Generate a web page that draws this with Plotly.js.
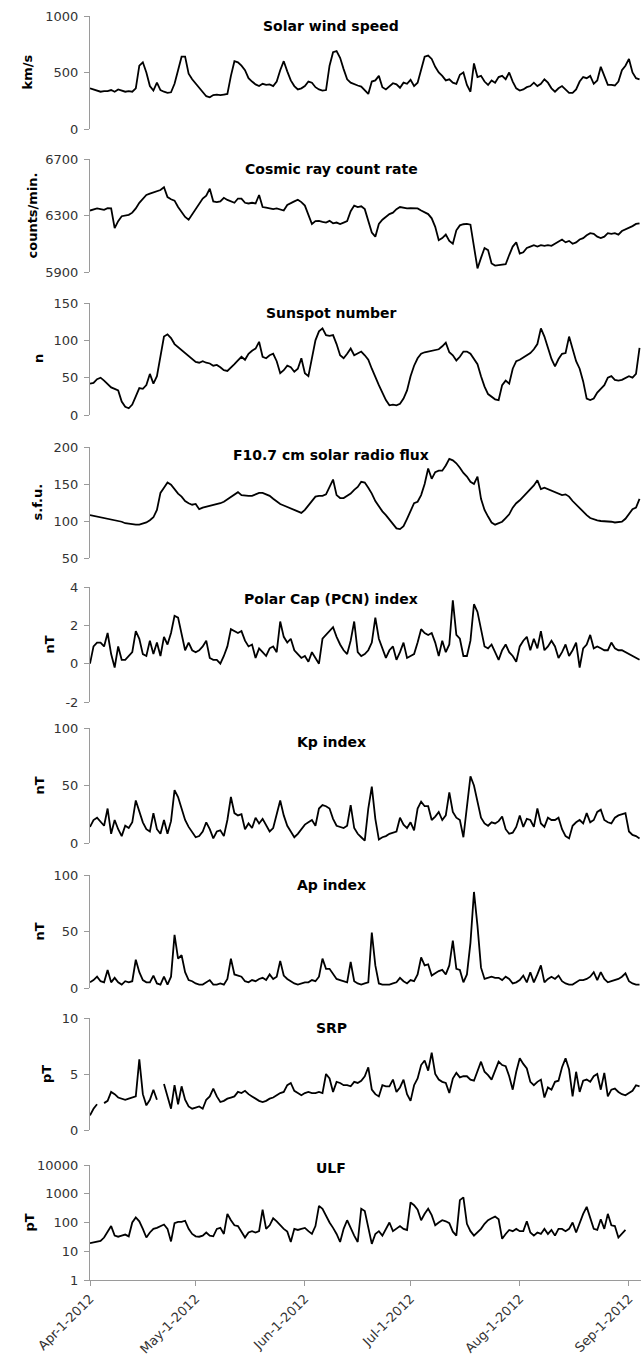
<!DOCTYPE html>
<html><head><meta charset="utf-8">
<script src="https://cdn.plot.ly/plotly-3.0.1.min.js"></script>
<style>html,body{margin:0;padding:0;background:#fff}#chart{width:641px;height:1359px}</style>
</head><body><div id="chart"></div>
<script>
// ---- data: one value per day starting Apr-1-2012 ----
const startYear = 2012, startMonth = 3, startDay = 1;

const solarWind = [
360,350,335,330,335,335,345,330,350,340,
330,335,330,360,560,590,500,380,340,410,
345,330,320,325,400,520,640,640,490,440,
400,360,320,290,280,300,305,300,305,310,
470,600,590,560,520,450,420,395,380,400,
390,395,380,420,520,600,510,430,380,350,
360,380,420,410,370,350,340,345,560,680,
690,630,530,440,410,395,385,375,345,310,
420,430,470,370,350,380,405,395,365,410,
400,435,380,410,520,640,650,620,550,500,
470,430,440,410,400,480,500,390,330,580,
460,470,420,390,430,410,460,470,440,500,
420,360,340,350,370,380,410,380,400,440,
410,360,330,360,380,350,320,320,350,420,
460,450,470,400,430,550,470,390,390,385,
420,520,560,620,500,450,440];

const cosmicRay = [
6335,6345,6350,6345,6340,6352,6350,6210,6260,6295,
6300,6305,6320,6350,6390,6420,6445,6455,6465,6470,
6480,6500,6430,6415,6405,6360,6320,6290,6270,6310,
6340,6380,6420,6440,6490,6400,6395,6400,6425,6410,
6400,6390,6420,6420,6390,6385,6390,6385,6445,6360,
6355,6350,6345,6350,6340,6335,6375,6390,6400,6412,
6395,6370,6300,6240,6260,6262,6255,6250,6262,6245,
6250,6240,6250,6260,6330,6370,6360,6365,6345,6270,
6180,6150,6240,6270,6290,6310,6320,6345,6360,6355,
6350,6352,6350,6350,6335,6320,6310,6280,6220,6125,
6140,6165,6120,6100,6195,6230,6238,6240,6235,6080,
5925,6000,6070,6055,5960,5945,5950,5950,5955,6020,
6080,6110,6030,6040,6070,6080,6090,6080,6090,6085,
6090,6085,6100,6110,6130,6110,6120,6100,6110,6130,
6140,6160,6175,6170,6150,6140,6150,6175,6170,6175,
6165,6190,6200,6210,6225,6240,6245];

const sunspots = [
42,43,48,50,46,42,37,35,33,18,
11,9,14,25,36,35,40,55,42,52,
80,105,108,103,95,91,88,84,80,75,
71,70,72,70,69,66,67,64,60,59,
63,68,73,78,74,82,86,89,98,78,
76,80,82,72,56,60,66,64,58,62,
76,56,52,76,100,112,116,107,106,107,
95,80,76,82,89,80,83,85,80,74,
62,50,40,30,20,13,14,13,15,22,
33,52,66,76,82,84,85,85,87,88,
92,97,84,80,73,78,85,85,82,75,
68,52,38,28,24,21,20,40,46,42,
62,72,74,77,80,83,88,95,116,105,
90,75,65,75,82,83,105,88,72,62,
45,22,20,22,30,35,40,50,52,47,
46,47,50,52,50,55,90];

const f107 = [
108,107,107,106,105,104,103,102,100,99,
97,96,95,95,95,96,98,101,105,115,
138,145,152,149,143,137,133,127,124,122,
123,116,118,119,120,121,122,124,126,129,
133,136,139,135,134,134,134,136,138,138,
136,134,130,126,123,121,119,117,115,112,
111,115,121,128,133,134,134,136,145,156,
135,131,131,134,137,142,146,153,152,145,
137,127,120,113,108,102,95,90,89,93,
103,114,124,126,135,150,171,157,166,168,
168,175,184,182,178,172,165,160,153,150,
160,130,115,106,98,95,97,99,104,109,
118,124,128,133,138,144,148,155,143,145,
143,140,139,137,135,136,133,127,122,117,
113,108,104,102,101,100,100,100,99,98,
98,99,103,110,116,118,130];

const pcn = [
0.0,0.9,1.1,1.1,0.9,1.6,0.5,-0.2,0.9,0.2,
0.2,0.4,0.6,1.7,1.3,0.5,0.4,1.2,0.5,1.1,
0.4,1.4,1.0,1.6,2.5,2.4,1.6,0.7,1.1,0.7,
0.6,0.7,0.9,1.2,0.3,0.2,0.2,0.0,0.4,0.9,
1.8,1.7,1.6,1.7,1.2,0.9,1.0,0.3,0.8,0.6,
0.4,0.8,0.9,0.6,2.2,1.4,1.1,1.3,0.7,0.5,
0.3,0.4,0.1,0.6,0.3,0.0,1.3,1.5,1.7,1.9,
1.4,1.0,0.7,0.5,1.2,2.2,0.6,0.4,0.5,0.7,
1.1,2.4,1.3,0.8,0.3,0.7,0.9,0.2,0.6,1.1,
0.3,0.4,0.5,1.1,1.8,1.6,1.5,1.6,1.1,0.4,
1.2,0.6,1.0,3.3,1.5,1.3,0.4,0.4,1.2,3.1,
2.7,1.8,0.9,0.8,1.0,0.6,0.2,0.7,1.0,0.6,
0.4,0.1,0.9,1.2,1.4,0.7,1.3,0.8,1.7,0.7,
0.9,1.2,0.9,0.3,0.6,1.0,0.4,0.7,1.1,-0.2,
0.8,1.0,1.5,0.8,0.9,0.8,0.7,0.7,1.1,0.8,
0.7,0.7,0.6,0.5,0.4,0.3,0.2];

const kp = [
14,20,22,18,15,30,8,20,12,6,
15,13,18,37,28,18,12,10,26,12,
8,20,8,19,46,40,30,20,14,9,
5,6,10,18,12,4,10,11,6,20,
40,26,24,25,12,17,13,22,17,21,
15,10,13,25,37,24,15,10,5,8,
12,16,18,20,15,30,33,32,30,21,
15,14,13,15,33,13,8,5,2,30,
49,21,3,5,6,8,9,10,22,16,
13,18,11,30,36,32,32,20,23,27,
20,24,44,27,22,20,5,30,58,50,
36,22,17,15,18,17,19,23,12,8,
9,14,24,14,21,20,14,30,17,14,
22,20,20,22,12,6,4,15,18,20,
17,26,18,20,27,29,20,18,17,22,
24,25,26,10,7,6,4];

const ap = [
5,7,10,6,5,16,5,9,5,3,
6,5,6,25,14,7,5,5,11,4,
3,10,3,10,47,26,29,14,7,6,
4,3,3,5,7,3,3,4,3,8,
26,12,11,10,6,5,7,6,8,9,
7,12,8,10,24,11,8,6,4,3,
4,5,5,7,6,10,26,17,17,13,
8,7,6,5,23,6,4,3,4,5,
49,20,4,3,3,3,4,5,9,6,
4,7,6,12,27,20,21,11,13,15,
16,12,20,42,17,16,5,12,40,85,
55,18,8,9,10,9,9,7,10,8,
4,5,7,11,5,14,5,12,20,5,
8,10,8,11,6,4,3,3,5,7,
7,8,10,14,7,14,8,5,6,7,
8,10,13,6,4,3,3];

const srp = [
1.3,1.9,2.3,null,2.4,2.6,3.4,3.2,2.9,2.8,
2.7,2.8,2.9,3.0,6.3,3.2,2.2,2.7,3.6,2.7,
null,4.1,3.0,1.9,4.0,2.3,3.9,2.7,2.1,1.9,
2.0,2.1,1.9,2.7,3.0,3.7,3.0,2.5,2.6,2.8,
2.9,3.0,3.4,3.3,3.5,3.2,3.0,2.8,2.6,2.5,
2.6,2.8,2.9,3.1,3.3,3.4,4.0,4.2,3.5,3.3,
3.1,3.3,3.4,3.3,3.3,3.4,3.3,5.0,4.6,3.4,
4.3,4.2,4.0,4.0,3.9,4.3,4.2,4.4,4.8,5.6,
3.6,3.2,3.0,4.0,3.9,3.9,4.5,3.4,3.8,4.5,
3.2,2.6,4.0,4.6,5.8,6.2,5.3,6.9,5.0,4.5,
4.3,4.2,3.3,4.6,5.1,4.7,4.8,4.8,4.5,4.4,
5.3,6.1,5.2,4.9,4.5,5.4,6.1,5.8,5.7,4.8,
3.6,5.2,6.4,5.9,5.5,4.3,4.0,4.3,4.5,2.9,
3.8,3.6,4.3,4.4,5.6,6.4,5.4,3.0,5.2,3.4,
4.4,4.5,4.3,4.8,5.0,3.6,5.1,3.0,3.6,3.7,
3.4,3.2,3.1,3.3,3.5,4.0,3.9];

const ulf = [
19,20,22,23,30,45,75,35,32,35,
38,33,100,150,110,60,30,45,60,65,
75,85,60,22,95,105,105,115,60,40,
33,32,35,45,35,33,60,65,40,200,
120,80,75,50,30,45,50,45,50,280,
60,80,140,110,80,60,48,21,60,55,
60,65,50,40,75,380,300,170,100,65,
40,21,60,120,60,35,21,300,250,60,
18,40,50,35,60,100,50,60,75,60,
55,500,400,280,120,200,300,180,80,100,
120,110,95,48,35,600,750,90,50,35,
45,60,90,120,140,160,130,27,40,55,
50,60,50,50,110,45,35,45,40,60,
40,55,35,60,60,50,60,100,45,100,
200,350,150,60,55,130,60,200,80,75,
30,40,55];

const panelTitles = ['Solar wind speed','Cosmic ray count rate','Sunspot number','F10.7 cm solar radio flux',
  'Polar Cap (PCN) index','Kp index','Ap index','SRP','ULF'];
const unitLabels = ['km/s','counts/min.','n','s.f.u.','nT','nT','nT','pT','pT'];
const tickValues = [[0,500,1000],[5900,6300,6700],[0,50,100,150],[50,100,150,200],[-2,0,2,4],
  [0,50,100],[0,50,100],[0,5,10],[1,10,100,1000,10000]];
const seriesList = [solarWind, cosmicRay, sunspots, f107, pcn, kp, ap, srp, ulf];

// ---- layout geometry (pixels in a 641 x 1359 page) ----
const W = 641, H = 1359;
const plotLeft = 90;
const panelPx = [[16,129],[159,272],[303,415],[447,558],[587,702],[728,843],[875,988],[1018,1130],[1165,1280]];
const titleY = [26,169,313,455,599,742,885,1028,1168];
const unitX = [27,32,38,37,49,39,39,46,29];
const yRanges = [[0,1000],[5900,6700],[0,150],[50,200],[-2,4],[0,100],[0,100],[0,10],[0,4]];

function dayString(i){
  const d = new Date(Date.UTC(startYear, startMonth, startDay + i));
  return d.toISOString().slice(0,10);
}

const FONT = 'DejaVu Sans, Verdana, sans-serif';
const AXIS_GREY = '#9a9a9a';
const traces = [];
const layout = {
  width: W, height: H,
  margin: {l:0, r:0, t:0, b:0},
  paper_bgcolor: '#fff', plot_bgcolor: 'rgba(0,0,0,0)',
  showlegend: false,
  font: {family: FONT, size: 13, color: '#333'},
  annotations: [],
  xaxis: {
    type: 'date', domain: [plotLeft/W, 1], anchor: 'y9',
    range: ['2012-04-01', '2012-09-04 10:00'],
    tick0: '2012-04-01', dtick: 'M1', tickformat: '%b-%-d-%Y', tickangle: -45,
    ticks: 'outside', ticklen: 5, tickcolor: AXIS_GREY, showline: true, linecolor: AXIS_GREY, linewidth: 1,
    showgrid: false, zeroline: false, tickfont: {family: FONT, size: 13, color: '#333'}
  }
};

seriesList.forEach((vals, k) => {
  const yName = k === 0 ? 'y' : 'y' + (k+1);
  const axName = k === 0 ? 'yaxis' : 'yaxis' + (k+1);
  traces.push({
    type: 'scatter', mode: 'lines',
    x: vals.map((_, i) => dayString(i)), y: vals,
    xaxis: 'x', yaxis: yName,
    line: {color: '#000', width: 1.8}, connectgaps: false, hoverinfo: 'skip'
  });
  const isLog = k === 8;
  const [top, bot] = panelPx[k];
  layout[axName] = {
    domain: [1 - bot/H, 1 - top/H], anchor: 'x',
    type: isLog ? 'log' : 'linear',
    range: yRanges[k],
    tickmode: 'array', tickvals: tickValues[k], ticktext: tickValues[k].map(String),
    ticks: 'outside', ticklen: 5, tickcolor: AXIS_GREY, ticklabelstandoff: 3,
    showline: true, linecolor: AXIS_GREY, linewidth: 1,
    showgrid: false, zeroline: false,
    tickfont: {family: FONT, size: 13, color: '#333'}
  };
  layout.annotations.push({
    xref: 'paper', yref: 'paper', x: 331/W, y: 1 - titleY[k]/H,
    xanchor: 'center', yanchor: 'middle', showarrow: false,
    text: '<b>' + panelTitles[k] + '</b>', font: {family: FONT, size: 14, color: '#000'}
  });
  layout.annotations.push({
    xref: 'paper', yref: 'paper', x: unitX[k]/W, y: 1 - (top+bot)/2/H,
    xanchor: 'center', yanchor: 'middle', showarrow: false, textangle: -90,
    text: '<b>' + unitLabels[k] + '</b>', font: {family: FONT, size: 13, color: '#000'}
  });
});

Plotly.newPlot('chart', traces, layout, {staticPlot: true, displayModeBar: false});
</script>
</body></html>
